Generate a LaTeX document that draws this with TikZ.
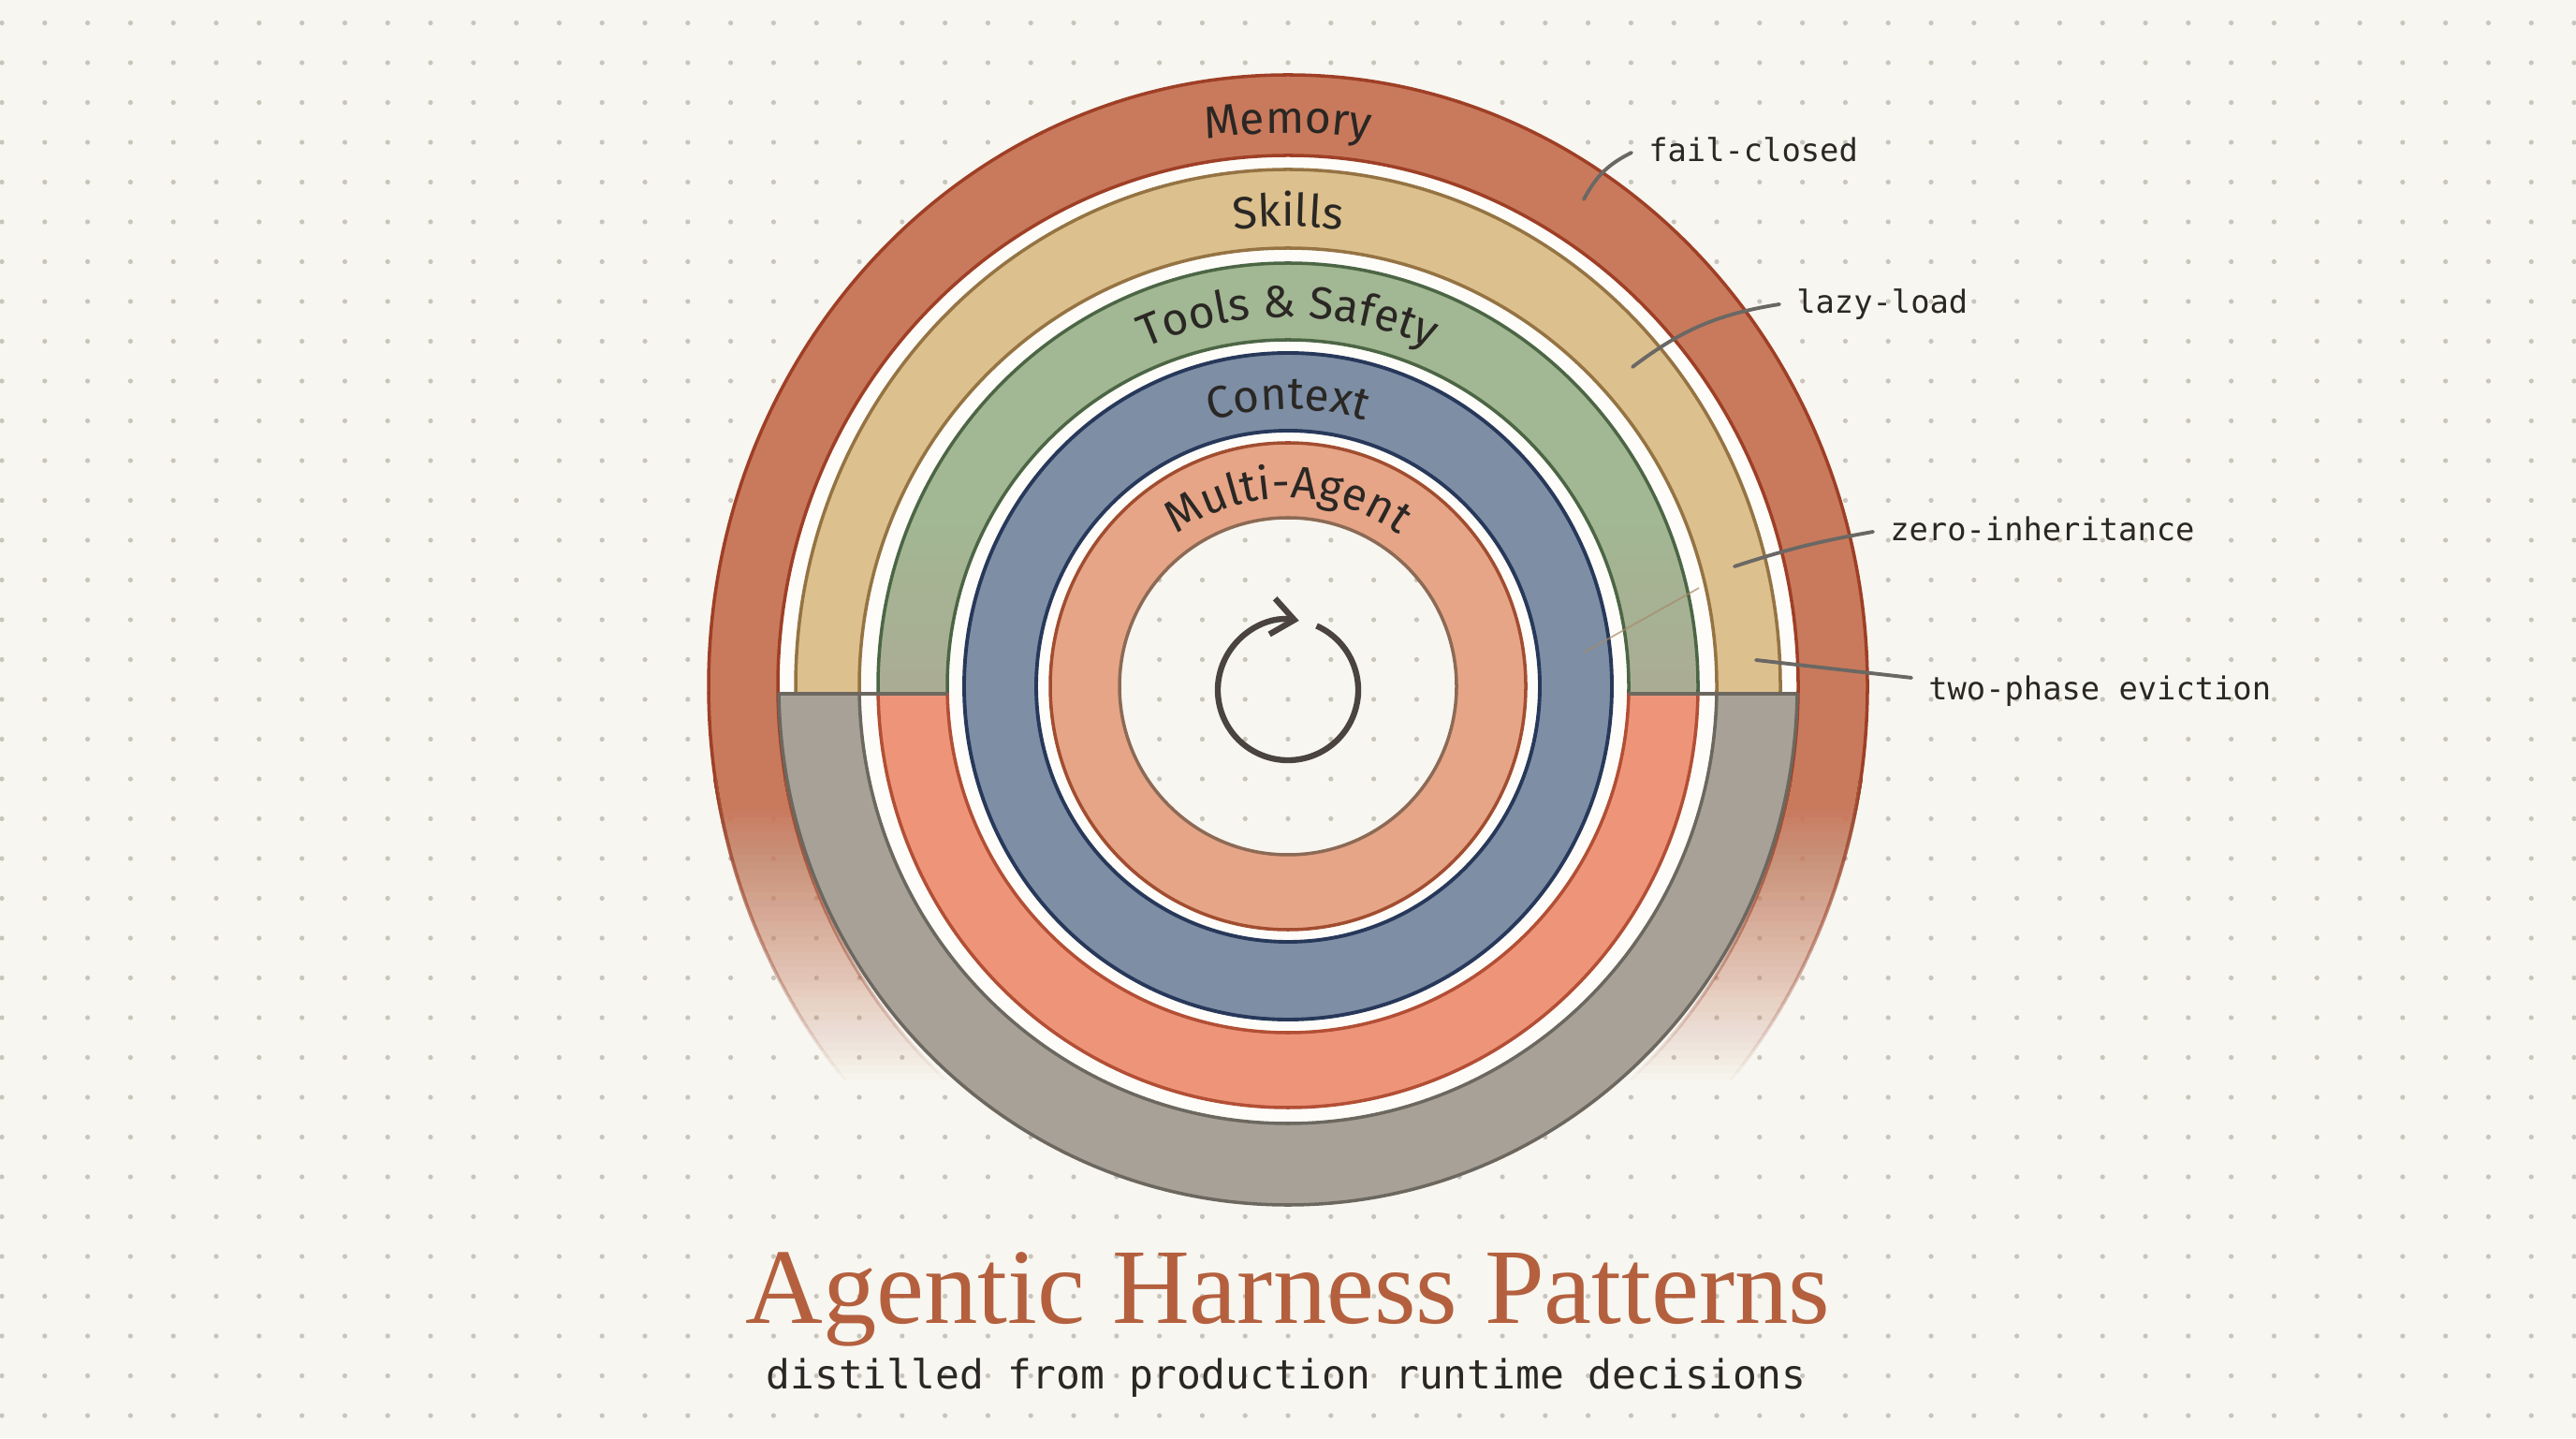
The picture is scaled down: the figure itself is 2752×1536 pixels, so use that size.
\documentclass[tikz,border=0pt]{standalone}
\usepackage{fontspec}
\newfontfamily\ringfont{Fira Sans}
\newfontfamily\labelfont{DejaVu Sans Mono}
\newfontfamily\titlefont{Liberation Serif}
\usetikzlibrary{decorations.text,arrows.meta}

\definecolor{bg}{HTML}{F7F6F0}
\definecolor{dotc}{HTML}{C9C5BA}
\definecolor{gapc}{HTML}{FDFCF8}
\definecolor{memfill}{HTML}{C97A5C}
\definecolor{memline}{HTML}{9E3F26}
\definecolor{skfill}{HTML}{DCC08E}
\definecolor{skline}{HTML}{957343}
\definecolor{tofill}{HTML}{A2B793}
\definecolor{toline}{HTML}{4C6645}
\definecolor{tolow}{HTML}{ABAC94}
\definecolor{cxfill}{HTML}{7D8EA5}
\definecolor{cxline}{HTML}{27385A}
\definecolor{mafill}{HTML}{E6A587}
\definecolor{maline}{HTML}{A24D30}
\definecolor{mainline}{HTML}{8C6A55}
\definecolor{grfill}{HTML}{A8A197}
\definecolor{grline}{HTML}{6C675F}
\definecolor{safill}{HTML}{EE9479}
\definecolor{saline}{HTML}{B24F35}
\definecolor{txt}{HTML}{2A2724}
\definecolor{leaderc}{HTML}{6A6864}
\definecolor{titlec}{HTML}{B4603E}
\definecolor{arrowc}{HTML}{4A4340}
\definecolor{faintc}{HTML}{A88A6A}

\newcommand\rf{\ringfont\fontsize{13.7pt}{16pt}\selectfont\color{txt}}
\newcommand\dotgrid{%
  \foreach \i in {-30,...,30}{%
    \foreach \j in {0,...,35}{%
      \fill[dotc] ({1376+\i*45.8},{1511.5-\j*42.5}) circle (2.6);}}}

\begin{document}
\begin{tikzpicture}[x=0.01cm,y=0.01cm,
  lab/.style={font=\labelfont\fontsize{9.6pt}{11pt}\selectfont, text=txt, anchor=west,
    inner xsep=5pt, inner ysep=0pt, text height=0.75em, text depth=0.2em},
  leaderl/.style={draw=leaderc, line width=1.1pt, line cap=round},
  ringtext/.style={decorate, decoration={text along path, text align=center, text={#1}}},
  bord/.style={line width=1pt}
]
\useasboundingbox (0,0) rectangle (2752,1536);
\fill[bg] (0,0) rectangle (2752,1536);
\dotgrid

\begin{scope}[shift={(1376,803)}]
  % white gaps
  \begin{scope}
    \clip (-700,-8) rectangle (700,700);
    \fill[gapc] (0,0) ellipse [x radius=545, y radius=567];
  \end{scope}
  \fill[gapc] (0,0) ellipse [x radius=544, y radius=554];

  % Memory upper
  \begin{scope}
    \clip (-700,-8) rectangle (700,700);
    \fill[memfill, even odd rule] (0,0) ellipse [x radius=619, y radius=653] (0,0) ellipse [x radius=545, y radius=567];
    \draw[memline, bord] (0,0) ellipse [x radius=619, y radius=653] (0,0) ellipse [x radius=545, y radius=567];
  \end{scope}
  % Memory lower solid part
  \begin{scope}
    \clip (-700,-8) rectangle (700,-100);
    \fill[memfill, even odd rule] (0,0) ellipse [x radius=619, y radius=653] (0,0) ellipse [x radius=545, y radius=567];
    \draw[memline, bord] (0,0) ellipse [x radius=619, y radius=653] (0,0) ellipse [x radius=545, y radius=567];
  \end{scope}
  % Memory lower fading part (stacked layers give a linear fade)
  \foreach \k in {1,...,40}{
    \pgfmathsetmacro\op{1/(\k+0.5)}
    \begin{scope}
      \clip (-700,-100) rectangle (700,{-100-\k*8});
      \path[fill=memfill, draw=memline, bord, even odd rule, opacity=\op] (0,0) ellipse [x radius=619, y radius=653] (0,0) ellipse [x radius=545, y radius=567];
    \end{scope}
  }

  % Skills upper (tan)
  \begin{scope}
    \clip (-700,-8) rectangle (700,700);
    \fill[skfill, even odd rule] (0,0) ellipse [x radius=526, y radius=552] (0,0) ellipse [x radius=458, y radius=468];
    \draw[skline, bord] (0,0) ellipse [x radius=526, y radius=552] (0,0) ellipse [x radius=458, y radius=468];
  \end{scope}
  % Tools upper (green)
  \begin{scope}
    \clip (-700,-8) rectangle (700,700);
    \fill[tofill, even odd rule] (0,0) ellipse [x radius=438, y radius=452] (0,0) ellipse [x radius=364, y radius=370];
  \end{scope}
  \begin{scope}[even odd rule]
    \clip (0,0) ellipse [x radius=438, y radius=452] (0,0) ellipse [x radius=364, y radius=370];
    \shade[top color=tofill, bottom color=tolow] (-700,-8) rectangle (700,180);
  \end{scope}
  \begin{scope}
    \clip (-700,-8) rectangle (700,700);
    \draw[toline, bord] (0,0) ellipse [x radius=438, y radius=452] (0,0) ellipse [x radius=364, y radius=370];
  \end{scope}

  % Lower gray
  \begin{scope}
    \clip (-700,-8) rectangle (700,-700);
    \fill[grfill, even odd rule] (0,0) ellipse [x radius=544, y radius=554] (0,0) ellipse [x radius=458, y radius=467];
    \draw[grline, bord] (0,0) ellipse [x radius=544, y radius=554] (0,0) ellipse [x radius=458, y radius=467];
  \end{scope}
  % Lower salmon
  \begin{scope}
    \clip (-700,-8) rectangle (700,-700);
    \fill[safill, even odd rule] (0,0) ellipse [x radius=438, y radius=450] (0,0) ellipse [x radius=364, y radius=370];
    \draw[saline, bord] (0,0) ellipse [x radius=438, y radius=450] (0,0) ellipse [x radius=364, y radius=370];
  \end{scope}

  % split lines
  \draw[grline, line width=1.4pt] (-544,-8) -- (-364,-8);
  \draw[grline, line width=1.4pt] (364,-8) -- (544,-8);

  % Context
  \fill[cxfill, even odd rule] (0,0) ellipse [x radius=346, y radius=356] (0,0) ellipse [x radius=269, y radius=273];
  \draw[cxline, line width=1.1pt] (0,0) ellipse [x radius=346, y radius=356] (0,0) ellipse [x radius=269, y radius=273];

  % Multi-Agent
  \fill[mafill, even odd rule] (0,0) ellipse [x radius=254, y radius=260] (0,0) circle (180);
  \draw[maline, bord] (0,0) ellipse [x radius=254, y radius=260];
  \fill[bg] (0,0) circle (180);
\end{scope}

% dots inside the centre
\begin{scope}
  \clip (1376,803) circle (179);
  \dotgrid
\end{scope}
\draw[mainline, bord] (1376,803) circle (180);

% loop arrow
\draw[arrowc, line width=1.8pt, -{Straight Barb[length=6.8pt, width=11pt]}]
  (1376,799) ++(66:75) arc[start angle=66, end angle=-279, radius=75];

% ring labels
\begin{scope}[shift={(1376,803)}]
  \path[ringtext={|\rf|Memory}] (150:564 and 591) arc[start angle=150, end angle=30, x radius=564, y radius=591];
  \path[ringtext={|\rf|Skills}] (150:474 and 491) arc[start angle=150, end angle=30, x radius=474, y radius=491];
  \path[ringtext={|\rf|Tools {\&} Safety}] (160:385 and 394) arc[start angle=160, end angle=20, x radius=385, y radius=394];
  \path[ringtext={|\rf|Context}] (160:289 and 296) arc[start angle=160, end angle=20, x radius=289, y radius=296];
  \path[ringtext={|\rf|Multi-Agent}] (170:200 and 201) arc[start angle=170, end angle=10, x radius=200, y radius=201];
\end{scope}

% callout labels
\node[lab] (fc) at (1743,1373) {fail-closed};
\node[lab] (ll) at (1901,1211) {lazy-load};
\node[lab] (zi) at (2001,968) {zero-inheritance};
\node[lab] (tp) at (2042,798) {two-phase eviction};
\coordinate (fcE) at (1692,1323);
\coordinate (llE) at (1744,1144);
\coordinate (ziE) at (1853,931);
\coordinate (tpE) at (1876,831);
\coordinate (faA) at (1815,908);
\coordinate (faB) at (1692,839);
\draw[leaderl] (fc.west) to[bend right=18] (fcE);
\draw[leaderl] (ll.west) to[bend right=14] (llE);
\draw[leaderl] (zi.west) to[bend right=4] (ziE);
\draw[leaderl] ([yshift=4]tp.west) -- (tpE);
\draw[faintc, line width=0.5pt, opacity=0.7] (faA) -- (faB);

% title
\node[anchor=base, text=titlec, font=\titlefont\fontsize{32.6pt}{36pt}\selectfont, inner sep=0pt] (title) at (1376,123) {Agentic Harness Patterns};
\node[anchor=base, text=txt, font=\labelfont\fontsize{12.2pt}{14pt}\selectfont, inner sep=0pt] (sub) at (1374,53) {distilled from production runtime decisions};
\end{tikzpicture}
\end{document}
